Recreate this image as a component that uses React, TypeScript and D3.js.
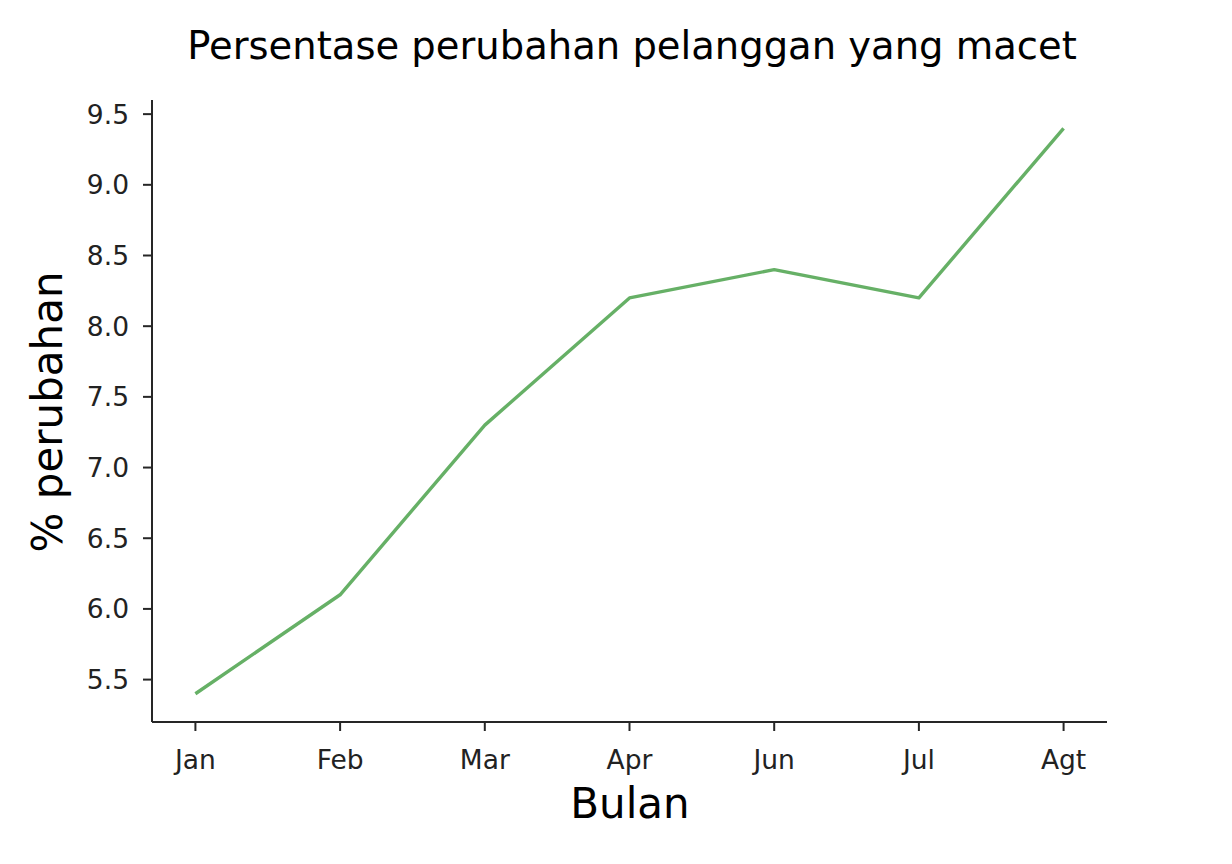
import React from 'react';
import * as d3 from 'd3';

// data
const months = ['Jan', 'Feb', 'Mar', 'Apr', 'Jun', 'Jul', 'Agt'];
const changePct = [5.4, 6.1, 7.3, 8.2, 8.4, 8.2, 9.4];
const yTicks = [5.5, 6.0, 6.5, 7.0, 7.5, 8.0, 8.5, 9.0, 9.5];

const W = 1232;
const H = 864;
const margin = { top: 100, right: 125, bottom: 142, left: 152 };
const font = '"DejaVu Sans", sans-serif';
const axisColor = '#262626';

export default function App() {
  const innerW = W - margin.left - margin.right;
  const innerH = H - margin.top - margin.bottom;

  // matplotlib-style 5% margins around the data
  const x = d3.scalePoint<string>().domain(months).range([0, innerW]).padding(0.3);
  const yMin = d3.min(changePct)!;
  const yMax = d3.max(changePct)!;
  const pad = (yMax - yMin) * 0.05;
  const y = d3.scaleLinear().domain([yMin - pad, yMax + pad]).range([innerH, 0]);

  const line = d3.line<number>()
    .x((_, i) => x(months[i])!)
    .y(d => y(d));

  return (
    <svg width={W} height={H} style={{ position: 'absolute', left: 0, top: 0, background: '#fff' }}>
      <text x={632} y={59} textAnchor="middle" fontFamily={font} fontSize={38.5} fill="#000">
        Persentase perubahan pelanggan yang macet
      </text>
      <g transform={`translate(${margin.left},${margin.top})`}>
        <path d={line(changePct)!} fill="none" stroke="#66b066" strokeWidth={3.4} strokeLinejoin="round" />

        {/* left spine + ticks */}
        <line x1={0} x2={0} y1={0} y2={innerH} stroke={axisColor} strokeWidth={2} />
        {yTicks.map(t => (
          <g key={t} transform={`translate(0,${y(t)})`}>
            <line x1={-9} x2={0} stroke={axisColor} strokeWidth={2} />
            <text x={-23} dy="0.36em" textAnchor="end" fontFamily={font} fontSize={26.5} fill="#222">
              {t.toFixed(1)}
            </text>
          </g>
        ))}

        {/* bottom spine + ticks */}
        <line x1={0} x2={innerW} y1={innerH} y2={innerH} stroke={axisColor} strokeWidth={2} />
        {months.map(m => (
          <g key={m} transform={`translate(${x(m)},${innerH})`}>
            <line y1={0} y2={9} stroke={axisColor} strokeWidth={2} />
            <text y={47} textAnchor="middle" fontFamily={font} fontSize={26.5} fill="#222">
              {m}
            </text>
          </g>
        ))}
      </g>
      <text x={630} y={818} textAnchor="middle" fontFamily={font} fontSize={42} fill="#000">
        Bulan
      </text>
      <text transform="translate(62,412) rotate(-90)" textAnchor="middle" fontFamily={font} fontSize={42} fill="#000">
        % perubahan
      </text>
    </svg>
  );
}
